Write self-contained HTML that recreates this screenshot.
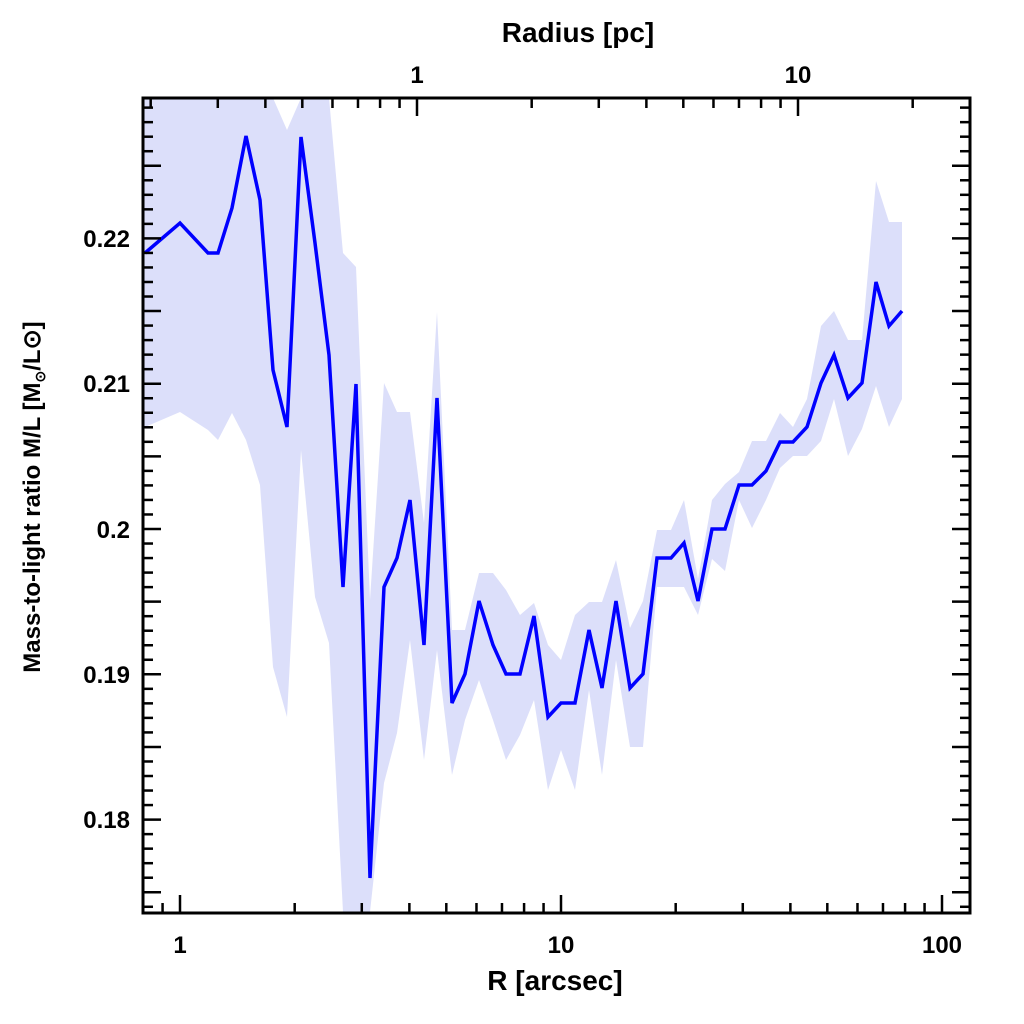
<!DOCTYPE html>
<html><head><meta charset="utf-8"><style>html,body{margin:0;padding:0;background:#fff}svg{display:block}</style></head>
<body>
<svg id="s" width="1024" height="1024" xmlns="http://www.w3.org/2000/svg" font-family="Liberation Sans, sans-serif" font-weight="bold">
<defs><clipPath id="c"><rect x="143" y="98" width="827" height="815"/></clipPath></defs>
<g clip-path="url(#c)">
<polygon id="band" fill="#dcdffa" points=""/>
<polyline id="line" fill="none" stroke="#0000ff" stroke-width="3.5" stroke-linejoin="miter" points=""/>
</g>
<g id="ticks" stroke="#000" stroke-width="2.5"></g>
<rect x="143" y="98" width="827" height="815" fill="none" stroke="#000" stroke-width="3"/>
<g font-size="24" fill="#000">
<text x="578" y="42" text-anchor="middle" font-size="28">Radius [pc]</text>
<text x="417" y="83" text-anchor="middle">1</text>
<text x="798" y="83" text-anchor="middle">10</text>
<text x="180" y="953" text-anchor="middle">1</text>
<text x="561" y="953" text-anchor="middle">10</text>
<text x="942" y="953" text-anchor="middle">100</text>
<text x="555" y="990" text-anchor="middle" font-size="28">R [arcsec]</text>
<text x="130" y="247" text-anchor="end">0.22</text>
<text x="130" y="392" text-anchor="end">0.21</text>
<text x="130" y="538" text-anchor="end">0.2</text>
<text x="130" y="683" text-anchor="end">0.19</text>
<text x="130" y="828" text-anchor="end">0.18</text>
<text transform="translate(40,497) rotate(-90)" text-anchor="middle" font-size="24">Mass-to-light ratio M/L [M<tspan font-size="14" dy="5">⊙</tspan><tspan dy="-5">/L⊙]</tspan></text>
</g>
</svg>
<script>
var X=[145,180,208,218,232,246,260,273,287,301,315,329,343,356,370,384,397,410,424,437,452,465,479,493,506,520,534,548,561,575,589,602,616,630,643,657,671,684,698,712,725,739,752,766,780,793,807,821,834,848,862,876,889,902];
var L=[253,223,253,253,208,136,200,370,427,137,243,355,587,384,878,587,558,500,645,398,703,674,601,645,674,674,616,717,703,703,630,688,601,688,674,558,558,543,601,529,529,485,485,471,442,442,427,383,355,398,383,282,326,311];
var U=[98,98,98,98,98,98,98,98,130,98,98,98,253,267,600,383,412,412,523,312,630,630,573,573,590,615,603,645,660,615,602,602,560,628,601,530,530,500,579,500,484,472,441,441,413,427,399,326,311,340,340,181,222,222];
var W=[427,412,430,440,413,440,485,667,717,450,597,643,912,912,912,783,733,640,760,650,775,720,680,720,760,735,700,790,750,790,690,775,660,747,747,587,587,587,615,559,571,500,528,500,468,456,456,441,399,456,429,386,427,399];
var p=[],q=[];
p.push("140,"+U[0]);
for(var i=0;i<X.length;i++){p.push(X[i]+","+U[i]);q.push(X[i]+","+L[i]);}
var lw=[];for(var i=X.length-1;i>=0;i--)lw.push(X[i]+","+W[i]);
lw.push("140,"+W[0]);
document.getElementById("band").setAttribute("points",p.concat(lw).join(" "));
document.getElementById("line").setAttribute("points",q.join(" "));
var g=document.getElementById("ticks"),s="";
function ln(a,b,c,d){s+='<line x1="'+a+'" y1="'+b+'" x2="'+c+'" y2="'+d+'"/>';}
for(var d=-1;d<=2;d++)for(var m=1;m<10;m++){var x=180+381*(d+Math.log10(m));if(x<145||x>968)continue;var h=m==1?18:10;ln(x,913,x,913-h);}
for(var d=-1;d<=1;d++)for(var m=1;m<10;m++){var x=417+381*(d+Math.log10(m));if(x<145||x>968)continue;var h=m==1?18:10;ln(x,98,x,98+h);}
for(var k=-30;k<=30;k++){var y=529-k*14.53;if(y<100||y>911)continue;var h=(k%5==0)?18:10;ln(143,y,143+h,y);ln(970,y,970-h,y);}
g.innerHTML=s;
</script>
</body></html>
